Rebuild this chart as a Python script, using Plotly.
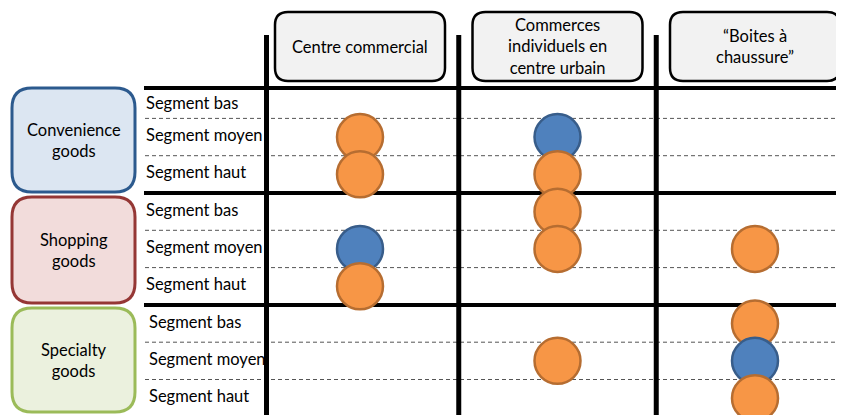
import plotly.graph_objects as go

# ---- data ----
columns = ["Centre commercial", "Commerces<br>individuels en<br>centre urbain", "“Boites à<br>chaussure”"]
groups = ["Convenience<br>goods", "Shopping<br>goods", "Specialty<br>goods"]
segments = ["Segment bas", "Segment moyen", "Segment haut"]

point_col = [0, 0, 0, 0, 1, 1, 1, 1, 1, 2, 2, 2, 2]
point_group = [0, 0, 1, 1, 0, 0, 1, 1, 2, 1, 2, 2, 2]
point_seg = [1, 2, 1, 2, 1, 2, 0, 1, 1, 1, 0, 1, 2]
point_kind = ["orange", "orange", "blue", "orange", "blue", "orange", "orange", "orange",
              "orange", "orange", "orange", "blue", "orange"]

# ---- styles ----
PAGE_W, PAGE_H = 844, 415
OFF = 8  # page body margin
W, H = PAGE_W - OFF, PAGE_H - OFF
COLW, COL0 = 197.5, 360.0
ROWH, ROW0 = 37.3, 81.1

def px2x(p):
    return (p - COL0) / COLW

def px2y(p):
    return (p - ROW0) / ROWH

fill = {"orange": "#F79646", "blue": "#4F81BD"}
edge = {"orange": "#B66D31", "blue": "#385D8A"}
group_fill = ["#DCE6F2", "#F2DCDB", "#EBF1DE"]
group_edge = ["#2C5A8E", "#953735", "#9BBB59"]
FONT = "Lato"
FS = 16.5

def rrect(x0p, y0p, x1p, y1p, r):
    X = lambda p: px2x(p)
    Y = lambda p: px2y(p)
    return (f"M {X(x0p + r)} {Y(y0p)} L {X(x1p - r)} {Y(y0p)} "
            f"Q {X(x1p)} {Y(y0p)} {X(x1p)} {Y(y0p + r)} "
            f"L {X(x1p)} {Y(y1p - r)} Q {X(x1p)} {Y(y1p)} {X(x1p - r)} {Y(y1p)} "
            f"L {X(x0p + r)} {Y(y1p)} Q {X(x0p)} {Y(y1p)} {X(x0p)} {Y(y1p - r)} "
            f"L {X(x0p)} {Y(y0p + r)} Q {X(x0p)} {Y(y0p)} {X(x0p + r)} {Y(y0p)} Z")

rows = [g * 3 + s for g, s in zip(point_group, point_seg)]
order = sorted(range(len(rows)), key=lambda i: rows[i])
xs = [point_col[i] for i in order]
ys = [rows[i] + 0.5 for i in order]
cols = [fill[point_kind[i]] for i in order]
lines = [edge[point_kind[i]] for i in order]

fig = go.Figure()
fig.add_trace(go.Scatter(
    x=xs, y=ys, mode="markers", hoverinfo="skip",
    marker=dict(size=46, color=cols, line=dict(color=lines, width=2.5)),
))

shapes = []
annotations = []
xr = [px2x(OFF), px2x(PAGE_W)]
yr = [px2y(PAGE_H), px2y(OFF)]

for g in range(len(groups)):
    for s in range(1, len(segments)):
        yy = g * 3 + s
        shapes.append(dict(type="line", xref="x", yref="y", x0=px2x(145), x1=xr[1], y0=yy, y1=yy,
                           line=dict(color="#555555", width=1, dash="4px,3px"), layer="below"))
for g in range(len(groups)):
    yy = g * 3 if g > 0 else px2y(88)
    shapes.append(dict(type="line", xref="x", yref="y", x0=px2x(144), x1=xr[1], y0=yy, y1=yy,
                       line=dict(color="black", width=4), layer="below"))
for c in range(len(columns)):
    xx = c - 0.5 if c > 0 else px2x(266.5)
    shapes.append(dict(type="line", xref="x", yref="y", x0=xx, x1=xx, y0=px2y(35), y1=yr[0],
                       line=dict(color="black", width=5), layer="below"))

for c, name in enumerate(columns):
    cx = COL0 + c * COLW
    shapes.append(dict(type="path", xref="x", yref="y", path=rrect(cx - 85, 12, cx + 85, 81, 13),
                       fillcolor="#F2F2F2", line=dict(color="black", width=2.5)))
    annotations.append(dict(x=c, y=px2y(46.5), xref="x", yref="y", text=name, showarrow=False,
                            font=dict(family=FONT, size=FS, color="black"), align="center"))

gbox = [(88, 192), (197, 303), (308, 412)]
for g, name in enumerate(groups):
    y0p, y1p = gbox[g]
    shapes.append(dict(type="path", xref="x", yref="y", path=rrect(12, y0p, 135, y1p, 20),
                       fillcolor=group_fill[g], line=dict(color=group_edge[g], width=3)))
    annotations.append(dict(x=px2x(74), y=px2y((y0p + y1p) / 2), xref="x", yref="y", text=name,
                            showarrow=False, font=dict(family=FONT, size=FS, color="black"),
                            align="center"))
    for s, seg in enumerate(segments):
        yl = g * 3 + s + 0.45
        if g == 0 and s == 0:
            yl = px2y(103)
        annotations.append(dict(x=px2x(144 if g < 2 else 147), y=yl, xref="x", yref="y",
                                text=seg, showarrow=False, xanchor="left",
                                font=dict(family=FONT, size=FS, color="black")))

fig.update_layout(
    width=W, height=H, margin=dict(l=0, r=0, t=0, b=0),
    paper_bgcolor="white", plot_bgcolor="white", showlegend=False,
    xaxis=dict(range=xr, visible=False, fixedrange=True),
    yaxis=dict(range=yr, visible=False, fixedrange=True),
    shapes=shapes, annotations=annotations,
)
fig.write_html("out.html")
